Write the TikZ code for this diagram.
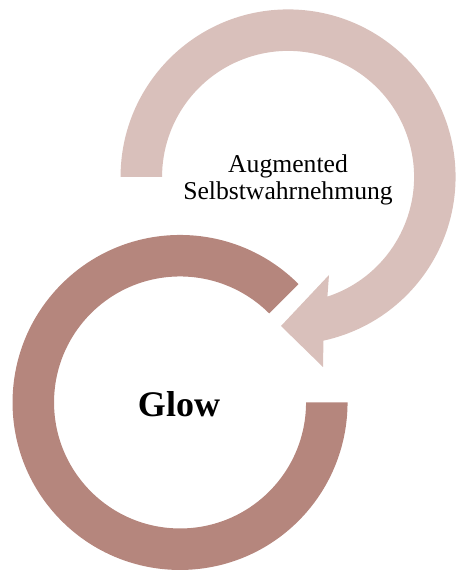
\documentclass[tikz,border=0pt]{standalone}
\usepackage{fontspec}
\setmainfont{Liberation Serif}
\usetikzlibrary{calc}
\definecolor{cpink}{HTML}{D9C0BB}
\definecolor{crose}{HTML}{B5867D}
\tikzset{
  band/.style={fill=#1, draw=none},
  band/.default=crose,
  txt/.style={font=\fontsize{14.6}{15.2}\selectfont, align=center, inner sep=0pt},
  bigtxt/.style={font=\fontsize{20.5}{24}\selectfont\bfseries, inner sep=0pt},
}

\begin{document}
\begin{tikzpicture}[scale=0.02]
  \useasboundingbox (0,0) rectangle (455,570);
  \coordinate (uc) at (288,393);
  \coordinate (lc) at (180,167.5);
  % lower ring, open at the upper right
  \fill[band=crose] ($(lc)+(45:167.5)$) arc[start angle=45, end angle=360, radius=167.5]
    -- ($(lc)+(0:126)$) arc[start angle=360, end angle=45, radius=126] -- cycle;
  % upper circular arrow
  \fill[band=cpink] ($(uc)+(180:167.5)$) arc[start angle=180, end angle=-77.8, radius=167.5]
    -- (323,203) -- (281,244) -- (329,295)
    -- ($(uc)+(-71.8:126)$) arc[start angle=-71.8, end angle=180, radius=126] -- cycle;
  \node[txt] (aug) at (288,390) {Augmented\\Selbstwahrnehmung};
  \node[bigtxt] (glow) at (179,166) {Glow};
\end{tikzpicture}
\end{document}
